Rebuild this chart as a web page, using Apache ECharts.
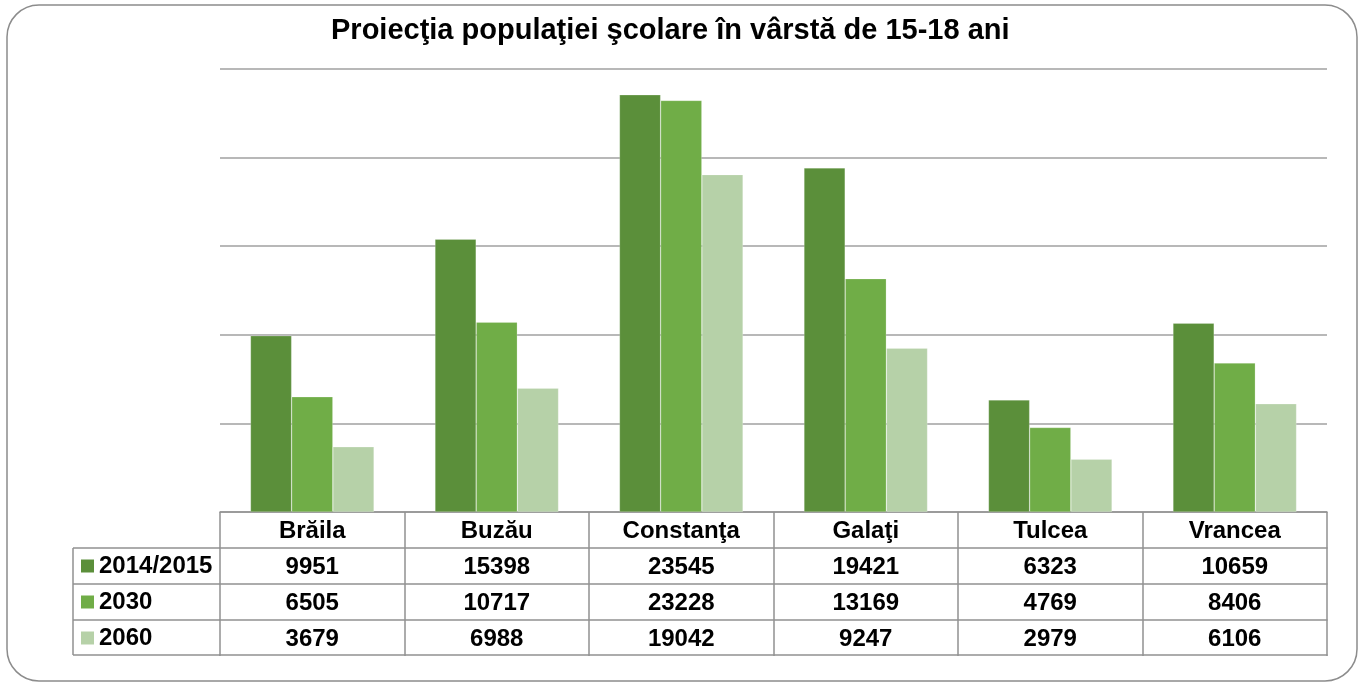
<!DOCTYPE html>
<html lang="ro">
    <head>
        <meta charset="UTF-8"/>
        <script src="https://cdn.jsdelivr.net/npm/echarts@6/dist/echarts.min.js"></script>
        <title>Proiecţia populaţiei şcolare</title>
        <style>
            html, body { margin: 0; padding: 0; background: #fff; }
        </style>
    </head>
    <body>
        <div id="main" style="width: 1360px;height:684px;"></div>
        <script type="text/javascript">

            // date
            var judete = ['Brăila', 'Buzău', 'Constanţa', 'Galaţi', 'Tulcea', 'Vrancea'];
            var ani = ['2014/2015', '2030', '2060'];
            var val2014 = [9951, 15398, 23545, 19421, 6323, 10659];
            var val2030 = [6505, 10717, 23228, 13169, 4769, 8406];
            var val2060 = [3679, 6988, 19042, 9247, 2979, 6106];
            var culori = ['#5b8f3a', '#70ad47', '#b6d1a8'];

            var valori = [val2014, val2030, val2060];

            // dimensiuni grafic / tabel
            var gLeft = 220, gRight = 1327, gTop = 69, gBottom = 512;
            var rowH = 36, tabLeft = 73;
            var lineCol = '#919191';
            var font = 'Liberation Sans, Arial, sans-serif';
            var fs = 24;

            var myChart = echarts.init(document.getElementById('main'));

            var xAxes = [{
                type: 'category',
                data: judete,
                gridIndex: 0,
                position: 'bottom',
                axisLine: {show: true, lineStyle: {color: lineCol, width: 1.5}},
                axisTick: {show: true, length: rowH * 4, lineStyle: {color: lineCol, width: 1.5}},
                axisLabel: {
                    margin: 7,
                    color: '#000',
                    fontFamily: font,
                    fontWeight: 'bold',
                    fontSize: fs,
                    lineHeight: 24
                }
            }];
            valori.forEach(function (arr, k) {
                xAxes.push({
                    type: 'category',
                    data: judete,
                    gridIndex: 0,
                    position: 'bottom',
                    offset: rowH * (k + 1),
                    axisLine: {show: true, lineStyle: {color: lineCol, width: 1.5}},
                    axisTick: {show: false},
                    axisLabel: {
                        margin: 7,
                        color: '#000',
                        fontFamily: font,
                        fontWeight: 'bold',
                        fontSize: fs,
                        lineHeight: 24,
                        formatter: function (v, i) { return String(arr[i]); }
                    }
                });
            });
            xAxes.push({
                type: 'category',
                data: judete,
                gridIndex: 0,
                position: 'bottom',
                offset: rowH * 4 - 1,
                axisLine: {show: true, lineStyle: {color: lineCol, width: 1.5}},
                axisTick: {show: false},
                axisLabel: {show: false}
            });

            var series = ani.map(function (an, k) {
                return {
                    name: an,
                    type: 'bar',
                    xAxisIndex: 0,
                    data: valori[k],
                    barGap: '0%',
                    barCategoryGap: '33%',
                    itemStyle: {color: culori[k], borderColor: 'rgba(255,255,255,0.35)', borderWidth: 0.6}
                };
            });

            // chenarul si liniile din stanga tabelului (coloana legendei)
            var graphics = [{
                type: 'rect',
                shape: {x: 7, y: 5, width: 1350, height: 676, r: 32},
                style: {fill: 'none', stroke: '#8c8c8c', lineWidth: 1.5},
                silent: true
            }, {
                type: 'line',
                shape: {x1: tabLeft, y1: gBottom + rowH, x2: tabLeft, y2: gBottom + rowH * 4 - 1},
                style: {stroke: lineCol, lineWidth: 1.5}
            }];
            for (var r = 1; r <= 4; r++) {
                var y = gBottom + rowH * r - (r === 4 ? 1 : 0);
                graphics.push({
                    type: 'line',
                    shape: {x1: tabLeft, y1: y, x2: gLeft, y2: y},
                    style: {stroke: lineCol, lineWidth: 1.5}
                });
            }

            option = {
                backgroundColor: '#fff',
                animation: false,
                title: {
                    text: 'Proiecţia populaţiei şcolare în vârstă de 15-18 ani',
                    left: 326,
                    top: 11,
                    textStyle: {
                        color: '#000',
                        fontFamily: font,
                        fontWeight: 'bold',
                        fontSize: 29
                    }
                },
                legend: {
                    data: ani,
                    orient: 'vertical',
                    left: 81,
                    top: gBottom + rowH + 6,
                    itemWidth: 13,
                    itemHeight: 13,
                    itemGap: 12,
                    itemStyle: {borderWidth: 0},
                    icon: 'rect',
                    padding: 0,
                    textStyle: {
                        color: '#000',
                        fontFamily: font,
                        fontWeight: 'bold',
                        fontSize: fs,
                        lineHeight: 24
                    }
                },
                grid: {
                    left: gLeft,
                    right: 1360 - gRight,
                    top: gTop,
                    bottom: 684 - gBottom,
                    containLabel: false
                },
                xAxis: xAxes,
                yAxis: {
                    type: 'value',
                    min: 0,
                    max: 25000,
                    interval: 5000,
                    axisLine: {show: false},
                    axisTick: {show: false},
                    axisLabel: {show: false},
                    splitLine: {lineStyle: {color: '#a0a0a0', width: 1.5}}
                },
                series: series,
                graphic: graphics
            };

            myChart.setOption(option);

        </script>
    </body>
</html>
